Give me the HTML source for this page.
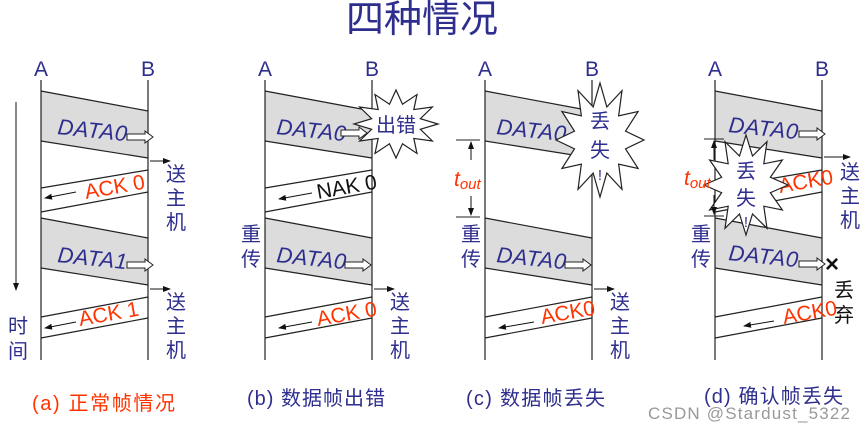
<!DOCTYPE html>
<html><head><meta charset="utf-8"><style>
html,body{margin:0;padding:0;background:#fff;}
svg{display:block;font-family:"Liberation Sans","Noto Sans CJK SC",sans-serif;}
.ln{stroke:#222;stroke-width:1.2;fill:none}
.band{fill:#dcdcdc;stroke:none}
.bl{fill:#2e2e8e}
.rd{fill:#ff3300}
.dt{font-size:22px;font-style:italic;fill:#2e2e8e;letter-spacing:0.5px}
.ck{font-size:21px;fill:#ff3300}
.cj{font-size:20px;fill:#2e2e8e}
</style></head><body>
<svg width="865" height="431" viewBox="0 0 865 431">
<defs>
<marker id="ah" markerWidth="8" markerHeight="6" refX="7" refY="3" orient="auto"><path d="M0,0 L8,3 L0,6z" fill="#111"/></marker>
<polygon id="star" points="1,0 .58,.155 .866,.5 .424,.424 .5,.866 .155,.58 0,1 -.155,.58 -.5,.866 -.424,.424 -.866,.5 -.58,.155 -1,0 -.58,-.155 -.866,-.5 -.424,-.424 -.5,-.866 -.155,-.58 0,-1 .155,-.58 .5,-.866 .424,-.424 .866,-.5 .58,-.155" fill="#fff" stroke="#222" stroke-width="1.2" vector-effect="non-scaling-stroke"/>
<g id="fatarrow"><path d="M0,-3 L18,-3 L18,-6 L26,0 L18,6 L18,3 L0,3z" fill="#fff" stroke="#222" stroke-width="1"/></g>
</defs>
<text x="422" y="32" text-anchor="middle" font-size="38" class="bl">四种情况</text>

<!-- Panel a -->
<g>
<text x="41" y="76" text-anchor="middle" font-size="21" class="bl">A</text>
<text x="148" y="76" text-anchor="middle" font-size="21" class="bl">B</text>
<polygon class="band" points="41,91 148,111 148,158 41,141"/>
<polygon class="band" points="41,218 148,238 148,285 41,268"/>
<line class="ln" x1="41" y1="80" x2="41" y2="360"/><line class="ln" x1="148" y1="80" x2="148" y2="360"/>
<path class="ln" d="M41,91L148,111M41,141L148,158M148,170L41,188M148,192L41,212M41,218L148,238M41,268L148,285M148,297L41,317M148,318L41,338"/>
<text x="57" y="134" class="dt" transform="rotate(6 57 134)">DATA0</text>
<use href="#fatarrow" transform="translate(127,137)"/>
<text x="57" y="262" class="dt" transform="rotate(6 57 262)">DATA1</text>
<use href="#fatarrow" transform="translate(127,265)"/>
<line x1="150" y1="161" x2="170" y2="161" stroke="#111" marker-end="url(#ah)"/>
<line x1="150" y1="289" x2="170" y2="289" stroke="#111" marker-end="url(#ah)"/>
<text x="86" y="199" class="ck" transform="rotate(-10 86 199)">ACK 0</text>
<text x="80" y="326" class="ck" transform="rotate(-10 80 326)">ACK 1</text>
<line x1="76" y1="192" x2="45" y2="198" stroke="#111" marker-end="url(#ah)"/>
<line x1="76" y1="322" x2="45" y2="328" stroke="#111" marker-end="url(#ah)"/>
<text x="166" y="181" class="cj">送</text><text x="166" y="205" class="cj">主</text><text x="166" y="229" class="cj">机</text>
<text x="166" y="309" class="cj">送</text><text x="166" y="333" class="cj">主</text><text x="166" y="357" class="cj">机</text>
<line x1="16" y1="102" x2="16" y2="290" stroke="#111" marker-end="url(#ah)"/>
<text x="8" y="333" class="cj">时</text><text x="8" y="358" class="cj">间</text>
<text x="32" y="410" font-size="20" class="rd" textLength="143">(a) 正常帧情况</text>
</g>

<!-- Panel b -->
<g transform="translate(224,0)">
<text x="41" y="76" text-anchor="middle" font-size="21" class="bl">A</text>
<text x="148" y="76" text-anchor="middle" font-size="21" class="bl">B</text>
<polygon class="band" points="41,91 148,111 148,158 41,141"/>
<polygon class="band" points="41,218 148,238 148,285 41,268"/>
<line class="ln" x1="41" y1="80" x2="41" y2="360"/><line class="ln" x1="148" y1="80" x2="148" y2="360"/>
<path class="ln" d="M41,91L148,111M41,141L148,158M148,170L41,188M148,192L41,212M41,218L148,238M41,268L148,285M148,297L41,317M148,318L41,338"/>
<text x="52" y="134" class="dt" transform="rotate(6 52 134)">DATA0</text>
<use href="#fatarrow" transform="translate(117,133)"/>
<use href="#star" transform="translate(172,124) scale(42,34)"/>
<text x="172" y="132" text-anchor="middle" class="cj">出错</text>
<text x="94" y="199" font-size="21" fill="#111" transform="rotate(-10 94 199)">NAK 0</text>
<line x1="88" y1="193" x2="55" y2="199" stroke="#111" marker-end="url(#ah)"/>
<text x="52" y="262" class="dt" transform="rotate(6 52 262)">DATA0</text>
<use href="#fatarrow" transform="translate(121,265)"/>
<line x1="150" y1="289" x2="170" y2="289" stroke="#111" marker-end="url(#ah)"/>
<text x="94" y="326" class="ck" transform="rotate(-10 94 326)">ACK 0</text>
<line x1="88" y1="322" x2="55" y2="328" stroke="#111" marker-end="url(#ah)"/>
<text x="166" y="309" class="cj">送</text><text x="166" y="333" class="cj">主</text><text x="166" y="357" class="cj">机</text>
<text x="17" y="241" class="cj">重</text><text x="17" y="266" class="cj">传</text>
<text x="23" y="405" font-size="20" class="bl" textLength="138">(b) 数据帧出错</text>
</g>

<!-- Panel c -->
<g transform="translate(444,0)">
<text x="41" y="76" text-anchor="middle" font-size="21" class="bl">A</text>
<text x="148" y="76" text-anchor="middle" font-size="21" class="bl">B</text>
<polygon class="band" points="41,91 148,111 148,158 41,141"/>
<polygon class="band" points="41,218 148,238 148,285 41,268"/>
<line class="ln" x1="41" y1="80" x2="41" y2="360"/><line class="ln" x1="148" y1="80" x2="148" y2="360"/>
<path class="ln" d="M41,91L148,111M41,141L148,158M41,218L148,238M41,268L148,285M148,297L41,317M148,318L41,338"/>
<text x="52" y="134" class="dt" transform="rotate(6 52 134)">DATA0</text>
<use href="#star" transform="translate(156,140) scale(44,57)"/>
<text x="156" y="128" text-anchor="middle" class="cj">丢</text>
<text x="156" y="157" text-anchor="middle" class="cj">失</text>
<text x="156" y="180" text-anchor="middle" font-size="15" class="bl">!</text>
<path d="M12,140H36M12,217H36" stroke="#222"/>
<line x1="27" y1="160" x2="27" y2="142" stroke="#111" marker-end="url(#ah)"/>
<line x1="27" y1="196" x2="27" y2="215" stroke="#111" marker-end="url(#ah)"/>
<text x="10" y="186" font-size="21" font-style="italic" class="rd">t<tspan font-size="15" dy="3">out</tspan></text>
<text x="52" y="262" class="dt" transform="rotate(6 52 262)">DATA0</text>
<use href="#fatarrow" transform="translate(121,265)"/>
<line x1="150" y1="289" x2="170" y2="289" stroke="#111" marker-end="url(#ah)"/>
<text x="98" y="324" class="ck" transform="rotate(-10 98 324)">ACK0</text>
<line x1="90" y1="322" x2="55" y2="328" stroke="#111" marker-end="url(#ah)"/>
<text x="166" y="309" class="cj">送</text><text x="166" y="333" class="cj">主</text><text x="166" y="357" class="cj">机</text>
<text x="17" y="241" class="cj">重</text><text x="17" y="266" class="cj">传</text>
<text x="22" y="405" font-size="20" class="bl" textLength="139">(c) 数据帧丢失</text>
</g>

<!-- Panel d -->
<g transform="translate(674,0)">
<text x="41" y="76" text-anchor="middle" font-size="21" class="bl">A</text>
<text x="148" y="76" text-anchor="middle" font-size="21" class="bl">B</text>
<polygon class="band" points="41,91 148,111 148,158 41,141"/>
<polygon class="band" points="41,218 148,238 148,285 41,268"/>
<line class="ln" x1="41" y1="80" x2="41" y2="360"/><line class="ln" x1="148" y1="80" x2="148" y2="360"/>
<path class="ln" d="M41,91L148,111M41,141L148,158M148,170L41,188M148,192L41,212M41,218L148,238M41,268L148,285M148,297L41,317M148,318L41,338"/>
<text x="54" y="132" class="dt" transform="rotate(6 54 132)">DATA0</text>
<use href="#fatarrow" transform="translate(125,134)"/>
<line x1="150" y1="157" x2="176" y2="157" stroke="#111" marker-end="url(#ah)"/>
<text x="106" y="193" class="ck" transform="rotate(-10 106 193)">ACK0</text>
<use href="#star" transform="translate(72,185) scale(42,50)"/>
<text x="72" y="178" text-anchor="middle" class="cj">丢</text>
<text x="72" y="205" text-anchor="middle" class="cj">失</text>
<text x="72" y="227" text-anchor="middle" font-size="15" class="bl">!</text>
<path d="M30,139H50M30,216H50" stroke="#222"/>
<line x1="40" y1="160" x2="40" y2="141" stroke="#111" marker-end="url(#ah)"/>
<line x1="40" y1="195" x2="40" y2="214" stroke="#111" marker-end="url(#ah)"/>
<text x="10" y="185" font-size="21" font-style="italic" class="rd">t<tspan font-size="15" dy="3">out</tspan></text>
<text x="54" y="260" class="dt" transform="rotate(6 54 260)">DATA0</text>
<use href="#fatarrow" transform="translate(125,264)"/>
<text x="158" y="272" text-anchor="middle" font-size="24" font-weight="bold" fill="#111">×</text>
<text x="160" y="297" font-size="20" fill="#111">丢</text><text x="160" y="322" font-size="20" fill="#111">弃</text>
<text x="110" y="324" class="ck" transform="rotate(-10 110 324)">ACK0</text>
<line x1="100" y1="321" x2="70" y2="326" stroke="#111" marker-end="url(#ah)"/>
<text x="166" y="179" class="cj">送</text><text x="166" y="203" class="cj">主</text><text x="166" y="227" class="cj">机</text>
<text x="17" y="241" class="cj">重</text><text x="17" y="266" class="cj">传</text>
<text x="30" y="403" font-size="20" class="bl" textLength="139">(d) 确认帧丢失</text>
<text x="-26" y="419" font-size="17" fill="#999" textLength="202">CSDN @Stardust_5322</text>
</g>
</svg>
</body></html>
